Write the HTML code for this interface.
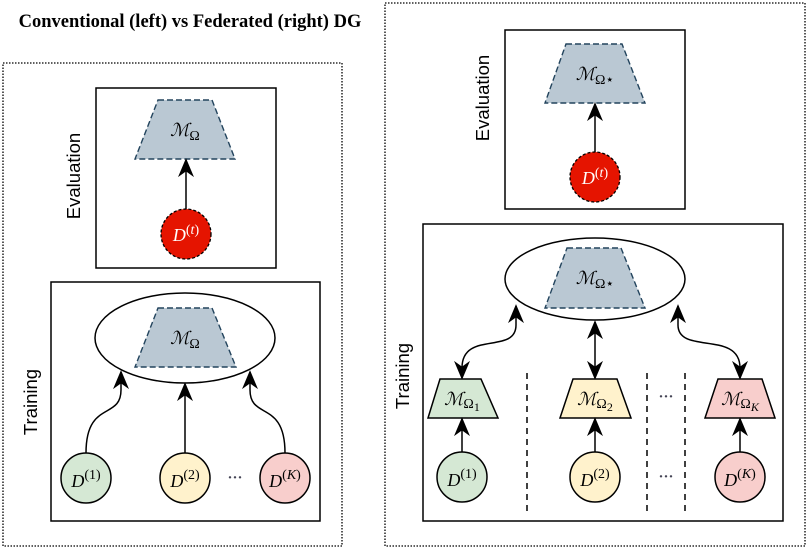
<!DOCTYPE html>
<html><head><meta charset="utf-8"><style>
html,body{margin:0;padding:0;background:#fff;}
svg text{font-family:"Liberation Serif",serif;}
.m{font-style:italic;font-size:18px;}
.lab{font-family:"Liberation Sans",sans-serif !important;font-size:18.5px;}
</style></head><body>
<svg width="809" height="548" viewBox="0 0 809 548" xmlns="http://www.w3.org/2000/svg">
<defs>
<marker id="b" viewBox="0 0 10 10" refX="9" refY="5" markerWidth="19" markerHeight="19" orient="auto-start-reverse" markerUnits="userSpaceOnUse">
<path d="M0,0.8 L10,5 L0,9.2 L3,5 z" fill="#000"/></marker>
</defs>
<text x="190" y="27" text-anchor="middle" font-weight="bold" font-size="18.5">Conventional (left) vs Federated (right) DG</text>
<!-- LEFT -->
<rect x="3" y="63" width="339" height="483" fill="none" stroke="#000" stroke-width="1.3" stroke-dasharray="1.5,1.5"/>
<rect x="96" y="88" width="180" height="180" fill="none" stroke="#000" stroke-width="1.5"/>
<text class="lab" transform="translate(80,176) rotate(-90)" text-anchor="middle">Evaluation</text>
<polygon points="158,100 212,100 235,159 135,159" fill="#bac8d3" stroke="#23445d" stroke-dasharray="6,3" stroke-width="1.4"/>
<text class="m" x="185" y="136" text-anchor="middle">ℳ<tspan font-size="14" dy="4" font-style="normal">Ω</tspan></text>
<line x1="186" y1="209" x2="186" y2="160" stroke="#000" stroke-width="1.5" marker-end="url(#b)"/>
<circle cx="186" cy="234" r="25" fill="#e51400" stroke="#000" stroke-dasharray="3,2" stroke-width="1.3"/>
<text class="m" x="186" y="241" text-anchor="middle" fill="#fff">D<tspan font-size="14" dy="-7" font-style="normal">(</tspan><tspan font-size="14">t</tspan><tspan font-size="14" font-style="normal">)</tspan></text>

<rect x="51" y="282" width="269" height="239" fill="none" stroke="#000" stroke-width="1.5"/>
<text class="lab" transform="translate(37,402) rotate(-90)" text-anchor="middle">Training</text>
<ellipse cx="185" cy="338" rx="90" ry="45" fill="#fff" stroke="#000" stroke-width="1.5"/>
<polygon points="158,308 212,308 236,367 135,367" fill="#bac8d3" stroke="#23445d" stroke-dasharray="6,3" stroke-width="1.4"/>
<text class="m" x="185" y="344" text-anchor="middle">ℳ<tspan font-size="14" dy="4" font-style="normal">Ω</tspan></text>
<path d="M86,453 C86,400 121,420 121,390 L121,372" fill="none" stroke="#000" stroke-width="1.5" marker-end="url(#b)"/>
<line x1="185" y1="453" x2="185" y2="384" stroke="#000" stroke-width="1.5" marker-end="url(#b)"/>
<path d="M285,453 C285,400 250,420 250,390 L250,372" fill="none" stroke="#000" stroke-width="1.5" marker-end="url(#b)"/>
<circle cx="86" cy="478" r="25" fill="#d5e8d4" stroke="#000" stroke-width="1.5"/>
<circle cx="185" cy="478" r="25" fill="#fff2cc" stroke="#000" stroke-width="1.5"/>
<circle cx="285" cy="478" r="25" fill="#f8cecc" stroke="#000" stroke-width="1.5"/>
<text class="m" x="86" y="487" text-anchor="middle">D<tspan font-size="14" dy="-8" font-style="normal">(1)</tspan></text>
<text class="m" x="185" y="487" text-anchor="middle">D<tspan font-size="14" dy="-8" font-style="normal">(2)</tspan></text>
<text class="m" x="285" y="487" text-anchor="middle">D<tspan font-size="14" dy="-8" font-style="normal">(</tspan><tspan font-size="14">K</tspan><tspan font-size="14" font-style="normal">)</tspan></text>
<text x="235" y="482" text-anchor="middle" font-size="15" fill="#445" font-weight="bold">···</text>

<!-- RIGHT -->
<rect x="385" y="3" width="420" height="543" fill="none" stroke="#000" stroke-width="1.3" stroke-dasharray="1.5,1.5"/>
<rect x="505" y="30" width="180" height="179" fill="none" stroke="#000" stroke-width="1.5"/>
<text class="lab" transform="translate(489,98) rotate(-90)" text-anchor="middle">Evaluation</text>
<polygon points="566,44 622,44 645,103 545,103" fill="#bac8d3" stroke="#23445d" stroke-dasharray="6,3" stroke-width="1.4"/>
<text class="m" x="595" y="80" text-anchor="middle">ℳ<tspan font-size="14" dy="4" font-style="normal">Ω⋆</tspan></text>
<line x1="595" y1="152" x2="595" y2="104" stroke="#000" stroke-width="1.5" marker-end="url(#b)"/>
<circle cx="595" cy="177" r="25" fill="#e51400" stroke="#000" stroke-dasharray="3,2" stroke-width="1.3"/>
<text class="m" x="595" y="184" text-anchor="middle" fill="#fff">D<tspan font-size="14" dy="-7" font-style="normal">(</tspan><tspan font-size="14">t</tspan><tspan font-size="14" font-style="normal">)</tspan></text>

<rect x="423" y="224" width="360" height="297" fill="none" stroke="#000" stroke-width="1.5"/>
<text class="lab" transform="translate(409,376) rotate(-90)" text-anchor="middle">Training</text>
<ellipse cx="595" cy="279" rx="90" ry="41" fill="#fff" stroke="#000" stroke-width="1.5"/>
<polygon points="567,248 621,248 645,308 545,308" fill="#bac8d3" stroke="#23445d" stroke-dasharray="6,3" stroke-width="1.4"/>
<text class="m" x="595" y="284" text-anchor="middle">ℳ<tspan font-size="14" dy="4" font-style="normal">Ω⋆</tspan></text>
<path d="M462,378 L462,368 C462,330 516,355 516,325 L516,306" fill="none" stroke="#000" stroke-width="1.5" marker-start="url(#b)" marker-end="url(#b)"/>
<line x1="595" y1="378" x2="595" y2="322" stroke="#000" stroke-width="1.5" marker-start="url(#b)" marker-end="url(#b)"/>
<path d="M740,378 L740,368 C740,330 678,355 678,325 L678,306" fill="none" stroke="#000" stroke-width="1.5" marker-start="url(#b)" marker-end="url(#b)"/>
<polygon points="440,379 481,379 498,418 428,418" fill="#d5e8d4" stroke="#000" stroke-width="1.5"/>
<polygon points="573,379 617,379 631,418 560,418" fill="#fff2cc" stroke="#000" stroke-width="1.5"/>
<polygon points="718,379 762,379 775,418 705,418" fill="#f8cecc" stroke="#000" stroke-width="1.5"/>
<text class="m" x="462" y="405" text-anchor="middle">ℳ<tspan font-size="14" dy="3" font-style="normal">Ω</tspan><tspan font-size="12" dy="3" font-style="normal">1</tspan></text>
<text class="m" x="595" y="405" text-anchor="middle">ℳ<tspan font-size="14" dy="3" font-style="normal">Ω</tspan><tspan font-size="12" dy="3" font-style="normal">2</tspan></text>
<text class="m" x="740" y="405" text-anchor="middle">ℳ<tspan font-size="14" dy="3" font-style="normal">Ω</tspan><tspan font-size="12" dy="3">K</tspan></text>
<line x1="462" y1="452" x2="462" y2="419" stroke="#000" stroke-width="1.5" marker-end="url(#b)"/>
<line x1="595" y1="452" x2="595" y2="419" stroke="#000" stroke-width="1.5" marker-end="url(#b)"/>
<line x1="740" y1="452" x2="740" y2="419" stroke="#000" stroke-width="1.5" marker-end="url(#b)"/>
<circle cx="462" cy="477" r="25" fill="#d5e8d4" stroke="#000" stroke-width="1.5"/>
<circle cx="595" cy="477" r="25" fill="#fff2cc" stroke="#000" stroke-width="1.5"/>
<circle cx="740" cy="477" r="25" fill="#f8cecc" stroke="#000" stroke-width="1.5"/>
<text class="m" x="462" y="486" text-anchor="middle">D<tspan font-size="14" dy="-8" font-style="normal">(1)</tspan></text>
<text class="m" x="595" y="486" text-anchor="middle">D<tspan font-size="14" dy="-8" font-style="normal">(2)</tspan></text>
<text class="m" x="740" y="486" text-anchor="middle">D<tspan font-size="14" dy="-8" font-style="normal">(</tspan><tspan font-size="14">K</tspan><tspan font-size="14" font-style="normal">)</tspan></text>
<g stroke="#000" stroke-width="1.5" stroke-dasharray="6,5">
<line x1="527" y1="373" x2="527" y2="511"/>
<line x1="647" y1="373" x2="647" y2="511"/>
<line x1="685" y1="373" x2="685" y2="511"/>
</g>
<text x="666" y="401" text-anchor="middle" font-size="15" fill="#445" font-weight="bold">···</text>
<text x="666" y="481" text-anchor="middle" font-size="15" fill="#445" font-weight="bold">···</text>
</svg>
</body></html>
